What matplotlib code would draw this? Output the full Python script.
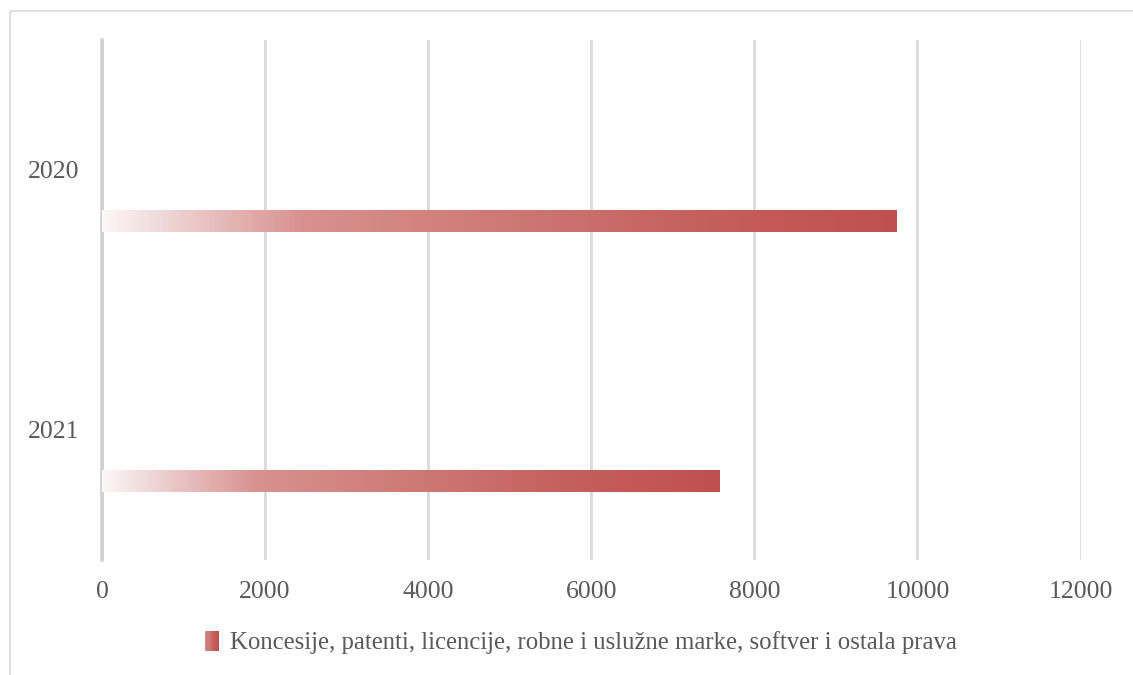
import numpy as np
import matplotlib
matplotlib.use("Agg")
import matplotlib.pyplot as plt
from matplotlib.colors import LinearSegmentedColormap
from matplotlib.patches import Rectangle
from matplotlib.lines import Line2D
from matplotlib.legend_handler import HandlerBase

# data
years = ["2020", "2021"]
values = [9740, 7570]
series_name = "Koncesije, patenti, licencije, robne i uslužne marke, softver i ostala prava"
xticks = [0, 2000, 4000, 6000, 8000, 10000, 12000]

W, H = 1133, 675
plt.rcParams["font.family"] = ["Liberation Serif", "DejaVu Serif"]

# white -> red gradient like the Excel fill
grad = LinearSegmentedColormap.from_list("redgrad", [
    (0.0, (252/255, 246/255, 246/255)),
    (0.1, (236/255, 205/255, 205/255)),
    (0.25, (216/255, 145/255, 143/255)),
    (0.5, (206/255, 122/255, 118/255)),
    (0.75, (197/255, 96/255, 93/255)),
    (1.0, (192/255, 80/255, 77/255)),
])
ramp = np.linspace(0, 1, 256).reshape(1, -1)

fig = plt.figure(figsize=(W/100, H/100), dpi=100)
ax = fig.add_axes([102/W, 1 - 560/H, (1080.5 - 102)/W, 520/H])

ypos = np.arange(len(years))
bars = ax.barh(ypos + 0.196, values, height=0.082, color="none", edgecolor="none", zorder=3)
for b in bars:
    x0, y0, w, h = b.get_x(), b.get_y(), b.get_width(), b.get_height()
    ax.imshow(ramp, cmap=grad, aspect="auto", extent=(x0, x0 + w, y0 + h, y0),
              interpolation="bilinear", zorder=3)

ax.set_xlim(0, 12000)
ax.set_ylim(len(years) - 0.5, -0.5)
ax.set_xticks(xticks)
ax.set_xticklabels([str(t) for t in xticks])
ax.set_yticks(ypos)
ax.set_yticklabels(years)
ax.tick_params(axis="both", length=0, labelsize=18.5, labelcolor="#595959")
ax.tick_params(axis="x", pad=15)
ax.tick_params(axis="y", pad=16)
ax.grid(axis="x", color="#d9d9d9", linewidth=2, zorder=0)
ax.set_axisbelow(True)
for s in ["top", "right", "bottom"]:
    ax.spines[s].set_visible(False)
ax.spines["left"].set_color("#d0d0d0")
ax.spines["left"].set_linewidth(2.6)


class GradHandler(HandlerBase):
    def create_artists(self, legend, orig, xd, yd, width, height, fontsize, trans):
        n = 12
        arts = []
        for i in range(n):
            r = Rectangle((xd + width * i / n, yd - 1), width / n + 0.3, height + 2,
                          facecolor=grad(0.35 + 0.65 * i / (n - 1)), edgecolor="none",
                          transform=trans)
            arts.append(r)
        return arts


handle = Rectangle((0, 0), 1, 1)
fig.legend([handle], [series_name], handler_map={Rectangle: GradHandler()},
           loc="center", bbox_to_anchor=(581/W, 1 - 643/H), frameon=False,
           fontsize=17.8, labelcolor="#595959", handlelength=0.55, handleheight=0.7,
           handletextpad=0.45)

# outer chart frame, only top and left edges are visible in the picture
fig.lines.append(Line2D([9.5/W, 9.5/W], [0, 1 - 11/H], transform=fig.transFigure,
                        color="#d9d9d9", linewidth=1.2, solid_capstyle="butt"))
fig.lines.append(Line2D([9.5/W, 1.02], [1 - 11/H, 1 - 11/H], transform=fig.transFigure,
                        color="#d9d9d9", linewidth=1.2, solid_capstyle="butt"))

fig.savefig("out.png", dpi=100, facecolor="white")
